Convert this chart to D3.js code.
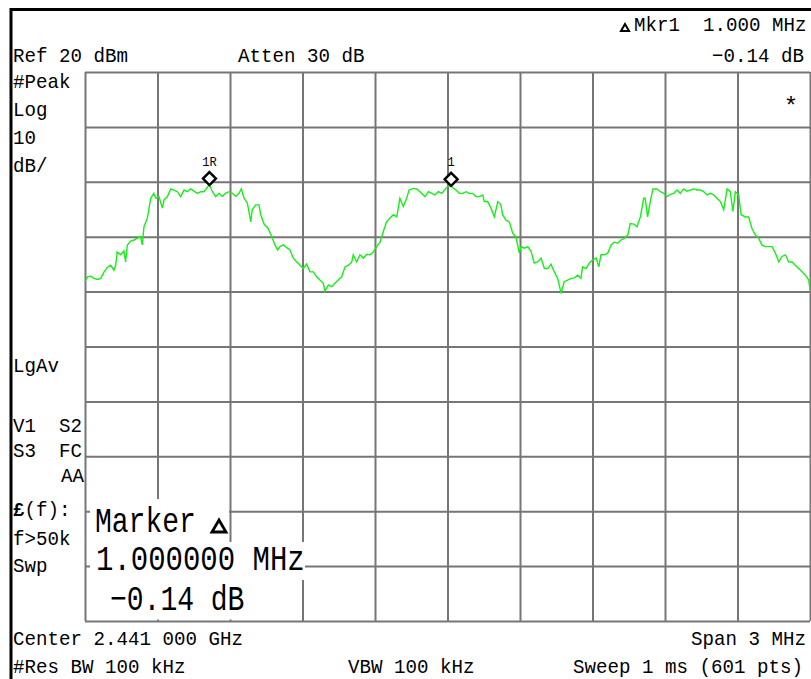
<!DOCTYPE html>
<html><head><meta charset="utf-8">
<script src="https://cdn.jsdelivr.net/npm/d3@7"></script>
<style>
html,body{margin:0;padding:0;background:#fff;}
svg{display:block;}
text{font-family:"Liberation Mono","DejaVu Sans Mono",monospace;fill:#000;white-space:pre;}
</style></head>
<body>
<svg id="c" width="811" height="679"></svg>
<script>
// ---- instrument settings ----
const centerGHz = 2.441;
const spanMHz = 3;
const refLevel = 20;      // dBm, top graticule line
const dbPerDiv = 10;

// graticule
const gridFreq = [-1.5, -1.2, -0.9, -0.6, -0.3, 0, 0.3, 0.6, 0.9, 1.2, 1.5];
const gridLevel = [20, 10, 0, -10, -20, -30, -40, -50, -60, -70, -80];

// trace: frequency offset from center (MHz) and level (dBm)
const freqMHz = [
-1.500,-1.490,-1.476,-1.463,-1.449,-1.435,-1.421,-1.408,-1.394,-1.380,-1.373,-1.367,-1.352,-1.339,-1.332,-1.325,-1.311,-1.297,-1.284,-1.270,
-1.263,-1.256,-1.242,-1.228,-1.215,-1.207,-1.194,-1.180,-1.173,-1.159,-1.145,-1.132,-1.118,-1.104,-1.090,-1.077,-1.063,-1.049,-1.035,-1.021,
-1.008,-0.985,-0.973,-0.959,-0.945,-0.932,-0.918,-0.904,-0.890,-0.876,-0.863,-0.853,-0.842,-0.828,-0.814,-0.808,-0.794,-0.780,-0.773,-0.759,
-0.742,-0.727,-0.714,-0.703,-0.693,-0.679,-0.665,-0.652,-0.638,-0.624,-0.610,-0.597,-0.583,-0.569,-0.555,-0.541,-0.528,-0.514,-0.507,-0.493,
-0.479,-0.466,-0.452,-0.438,-0.424,-0.410,-0.396,-0.390,-0.376,-0.362,-0.348,-0.334,-0.321,-0.307,-0.293,-0.279,-0.266,-0.252,-0.238,-0.224,
-0.210,-0.197,-0.183,-0.169,-0.159,-0.141,-0.127,-0.114,-0.093,-0.079,-0.065,-0.052,-0.038,-0.024,-0.003,0.015,0.022,0.035,0.049,0.063,
0.077,0.090,0.104,0.118,0.132,0.146,0.152,0.166,0.180,0.194,0.208,0.221,0.228,0.242,0.256,0.270,0.283,0.297,0.304,0.318,
0.332,0.346,0.359,0.373,0.387,0.401,0.415,0.428,0.442,0.456,0.470,0.483,0.497,0.511,0.525,0.539,0.552,0.559,0.573,0.587,
0.601,0.615,0.626,0.635,0.649,0.663,0.677,0.690,0.704,0.718,0.732,0.746,0.756,0.771,0.784,0.798,0.812,0.818,0.828,0.839,
0.850,0.867,0.881,0.895,0.908,0.922,0.936,0.950,0.963,0.977,0.991,1.005,1.019,1.032,1.046,1.060,1.074,1.088,1.102,1.115,
1.129,1.143,1.157,1.170,1.181,1.191,1.205,1.215,1.232,1.246,1.260,1.274,1.288,1.301,1.315,1.329,1.343,1.357,1.371,1.384,
1.398,1.412,1.426,1.439,1.453,1.467,1.481,1.495,1.500];
const levelDbm = [
-18.2,-17.3,-17.2,-17.6,-17.8,-17.6,-16.4,-15.6,-15.2,-16.1,-15.2,-12.8,-13.3,-12.6,-14.6,-11.5,-10.8,-10.6,-10.3,-10.0,
-11.5,-8.2,-6.6,-3.0,-2.1,-3.0,-2.7,-4.8,-3.3,-2.7,-1.3,-1.5,-1.8,-2.7,-1.5,-1.8,-1.3,-1.7,-2.1,-1.8,
-1.8,-0.5,-1.8,-2.7,-2.1,-2.7,-2.1,-1.8,-2.1,-2.7,-2.1,-1.3,-3.0,-3.9,-7.3,-5.1,-4.2,-4.2,-6.0,-7.7,
-8.5,-10.0,-11.5,-12.4,-11.8,-11.5,-12.0,-12.4,-13.9,-14.6,-15.2,-15.8,-15.0,-16.4,-16.4,-17.3,-17.9,-18.5,-19.9,-18.8,
-19.1,-18.5,-17.9,-17.3,-15.5,-15.2,-14.6,-13.3,-14.6,-13.3,-13.9,-13.2,-13.3,-12.8,-11.8,-11.0,-9.1,-7.3,-6.6,-6.0,
-6.4,-3.0,-4.5,-3.0,-1.5,-1.2,-1.3,-1.8,-2.7,-1.8,-2.1,-2.4,-1.8,-2.1,-1.0,-0.64,-1.1,-1.5,-2.1,-2.1,
-1.8,-2.1,-2.1,-2.7,-2.7,-2.4,-3.6,-3.6,-4.8,-6.4,-3.6,-4.2,-6.0,-7.0,-7.3,-9.4,-10.0,-13.0,-11.8,-12.1,
-11.8,-12.7,-14.8,-14.6,-13.9,-15.8,-15.8,-15.0,-16.4,-17.6,-20.3,-18.2,-17.9,-17.6,-17.5,-17.0,-17.6,-15.5,-15.8,-14.8,
-14.2,-13.9,-15.5,-13.3,-13.3,-13.0,-11.5,-11.0,-11.2,-10.6,-10.3,-9.7,-7.6,-7.7,-8.2,-6.4,-3.0,-3.0,-6.4,-3.6,
-1.3,-1.3,-1.8,-2.1,-2.7,-2.3,-2.1,-1.5,-2.1,-1.3,-1.7,-1.5,-1.3,-1.5,-1.5,-1.8,-2.4,-2.1,-2.4,-3.0,
-3.6,-5.1,-1.3,-1.8,-5.4,-1.8,-2.4,-6.0,-6.4,-6.4,-8.5,-9.7,-10.3,-11.5,-11.8,-11.8,-11.8,-13.0,-14.6,-13.6,
-13.3,-14.6,-14.6,-15.2,-15.8,-16.4,-17.0,-17.9,-19.7];

// markers
const markerNames = ["1R", "1"];
const markerFreq = [-0.985, 0.015];
const markerLevel = [-0.5, -0.64];

// annotation texts
const topRight = ["Mkr1  1.000 MHz", "\u22120.14 dB"];
const leftLabels = ["#Peak", "Log", "10", "dB/", "LgAv", "V1  S2", "S3  FC", "AA", "f>50k", "Swp"];
const bottomLabels = ["Center 2.441 000 GHz", "Span 3 MHz", "#Res BW 100 kHz", "VBW 100 kHz", "Sweep 1 ms (601 pts)"];
const readout = ["Marker", "1.000000 MHz", "\u22120.14 dB"];

// ---- drawing ----
const svg = d3.select("#c");
const L = 85, R = 810, T = 72, B = 621;
const x = d3.scaleLinear().domain([-spanMHz/2, spanMHz/2]).range([L, R]);
const y = d3.scaleLinear().domain([refLevel, refLevel - 10*dbPerDiv]).range([T, B]);

const ADV = 11.5, FS = 21, MONO = 0.6;
// monospace text, horizontally condensed to the instrument's character pitch
function label(str, px, py, opt = {}) {
  const size = opt.size || FS, adv = opt.adv || ADV;
  const n = [...str].length, len = n * adv;
  const sx = opt.end ? px - len : px;
  const k = adv / (MONO * size);
  return svg.append("text").attr("x", 0).attr("y", 0)
    .attr("transform", `translate(${sx},${py}) scale(${k},1)`)
    .attr("font-size", size).text(str);
}

// frame
svg.append("path").attr("d", "M11,679V9.5H811").attr("fill", "none")
  .attr("stroke", "#000").attr("stroke-width", 3);

// graticule via axes
const gridCol = "#767676";
const gX = svg.append("g").attr("transform", `translate(0,${B})`)
  .call(d3.axisBottom(x).tickValues(gridFreq).tickSize(-(B - T)).tickFormat(""));
const gY = svg.append("g").attr("transform", `translate(${L},0)`)
  .call(d3.axisLeft(y).tickValues(gridLevel).tickSize(-(R - L)).tickFormat(""));
[gX, gY].forEach(g => {
  g.select(".domain").remove();
  g.selectAll(".tick line").attr("stroke", gridCol).attr("stroke-width", 2);
});

// trace
const pts = freqMHz.map((f, i) => [f, levelDbm[i]]);
svg.append("path").datum(pts)
  .attr("d", d3.line().x(d => x(d[0])).y(d => y(d[1])))
  .attr("fill", "none").attr("stroke", "#16f016").attr("stroke-width", 1.4);

// markers
markerFreq.forEach((f, i) => {
  const cx = x(f), cy = y(markerLevel[i]) - 6;
  svg.append("path")
    .attr("d", `M${cx},${cy-6.5}L${cx+6.5},${cy}L${cx},${cy+6.5}L${cx-6.5},${cy}Z`)
    .attr("fill", "#fff").attr("stroke", "#000").attr("stroke-width", 2.4);
  const n = markerNames[i].length;
  label(markerNames[i], cx - n * 3.6, cy - 13, {size: 12, adv: 7.2});
});

// asterisk
svg.append("text").attr("x", 791).attr("y", 114).attr("text-anchor", "middle")
  .attr("font-size", 24).text("*");

// header
svg.append("path").attr("d", "M621,31L625,24L629,31Z").attr("fill", "none")
  .attr("stroke", "#000").attr("stroke-width", 2);
label(topRight[0], 634, 31);
label("Ref 20 dBm", 13, 62);
label("Atten 30 dB", 238, 62);
label(topRight[1], 804, 62, {end: true});

// left panel
const leftY = [88, 116, 144, 172, 372, 432, 457, 482, 545, 572];
leftLabels.forEach((s, i) => {
  if (s === "AA") label(s, 84, leftY[i], {end: true});
  else label(s, 13, leftY[i]);
});
const ef = svg.append("text").attr("x", 0).attr("y", 0)
  .attr("transform", `translate(13,516) scale(${ADV / (MONO * FS)},1)`)
  .attr("font-size", FS);
ef.append("tspan").attr("font-weight", "bold").text("\u00a3");
ef.append("tspan").text("(f):");

// bottom
label(bottomLabels[0], 13, 645);
label(bottomLabels[1], 806, 645, {end: true});
label(bottomLabels[2], 13, 673);
label(bottomLabels[3], 348, 673);
label(bottomLabels[4], 803, 673, {end: true});

// marker readout box
svg.append("rect").attr("x", 90).attr("y", 499).attr("width", 139).attr("height", 43).attr("fill", "#fff");
svg.append("rect").attr("x", 90).attr("y", 542).attr("width", 215).attr("height", 38).attr("fill", "#fff");
svg.append("rect").attr("x", 90).attr("y", 580).attr("width", 168).attr("height", 39.5).attr("fill", "#fff");
const BF = 35, BADV = 16.8;
label(readout[0], 95, 532, {size: BF, adv: BADV});
svg.append("path").attr("d", "M212,532L219,520L226,532Z").attr("fill", "none")
  .attr("stroke", "#000").attr("stroke-width", 2.8);
label(readout[1], 96, 570, {size: BF, adv: 17.4});
label(readout[2], 110, 610, {size: BF, adv: BADV});
</script>
</body></html>
